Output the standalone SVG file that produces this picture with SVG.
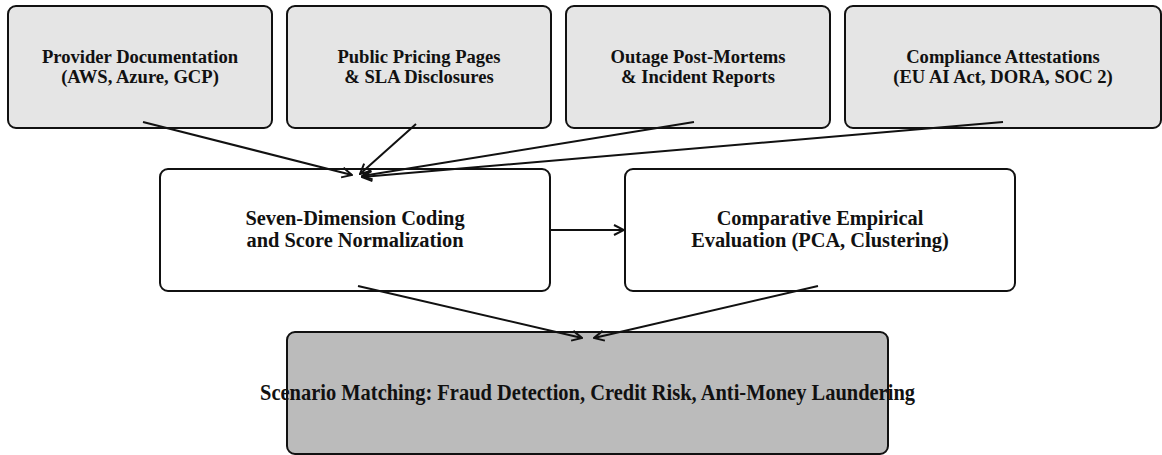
<svg xmlns="http://www.w3.org/2000/svg" width="1162" height="455" viewBox="0 0 1162 455">
<defs>
<style>
.src rect{fill:#e5e5e5;stroke:#111;stroke-width:2}
.mid rect{fill:#fff;stroke:#111;stroke-width:2}
.out rect{fill:#bbbbbb;stroke:#111;stroke-width:2}
text{font-family:"Liberation Serif","Times New Roman",serif;font-weight:bold;fill:#111;text-anchor:middle}
.t16{font-size:18.6px}
.t18{font-size:20.4px}
.t22{font-size:22.5px}
.conn line{stroke:#111;stroke-width:2;fill:none}
</style>
<marker id="arr" viewBox="0 0 12 12" refX="11" refY="6" markerWidth="12" markerHeight="12" markerUnits="userSpaceOnUse" orient="auto">
<path d="M1,1 L11,6 L1,11" fill="none" stroke="#111" stroke-width="2"/>
</marker>
</defs>
<rect width="1162" height="455" fill="#fff"/>
<g id="n1" class="src"><rect x="8" y="6" width="264" height="122" rx="8"/><text class="t16" x="140" y="63">Provider Documentation</text><text class="t16" x="140" y="83">(AWS, Azure, GCP)</text></g>
<g id="n2" class="src"><rect x="287" y="6" width="264" height="122" rx="8"/><text class="t16" x="419" y="63">Public Pricing Pages</text><text class="t16" x="419" y="83">&amp; SLA Disclosures</text></g>
<g id="n3" class="src"><rect x="566" y="6" width="264" height="122" rx="8"/><text class="t16" x="698" y="63">Outage Post-Mortems</text><text class="t16" x="698" y="83">&amp; Incident Reports</text></g>
<g id="n4" class="src"><rect x="845" y="6" width="316" height="122" rx="8"/><text class="t16" x="1003" y="63">Compliance Attestations</text><text class="t16" x="1003" y="83">(EU AI Act, DORA, SOC 2)</text></g>
<g id="n5" class="mid"><rect x="160" y="169" width="390" height="122" rx="8"/><text class="t18" x="355" y="225">Seven-Dimension Coding</text><text class="t18" x="355" y="247">and Score Normalization</text></g>
<g id="n6" class="mid"><rect x="625" y="169" width="390" height="122" rx="8"/><text class="t18" x="820" y="225">Comparative Empirical</text><text class="t18" x="820" y="247">Evaluation (PCA, Clustering)</text></g>
<g id="n7" class="out"><rect x="287" y="332" width="601" height="122" rx="8"/><text class="t22" x="587.5" y="400" textLength="655" lengthAdjust="spacingAndGlyphs">Scenario Matching: Fraud Detection, Credit Risk, Anti-Money Laundering</text></g>
<g id="connectors" class="conn">
<line x1="143" y1="122" x2="352" y2="175" marker-end="url(#arr)"/>
<line x1="416" y1="124" x2="360" y2="174" marker-end="url(#arr)"/>
<line x1="694" y1="122" x2="362" y2="176" marker-end="url(#arr)"/>
<line x1="1003" y1="122" x2="362" y2="177" marker-end="url(#arr)"/>
<line x1="550" y1="230" x2="624" y2="230" marker-end="url(#arr)"/>
<line x1="358" y1="286" x2="582" y2="338" marker-end="url(#arr)"/>
<line x1="818" y1="286" x2="594" y2="338" marker-end="url(#arr)"/>
</g>
</svg>
